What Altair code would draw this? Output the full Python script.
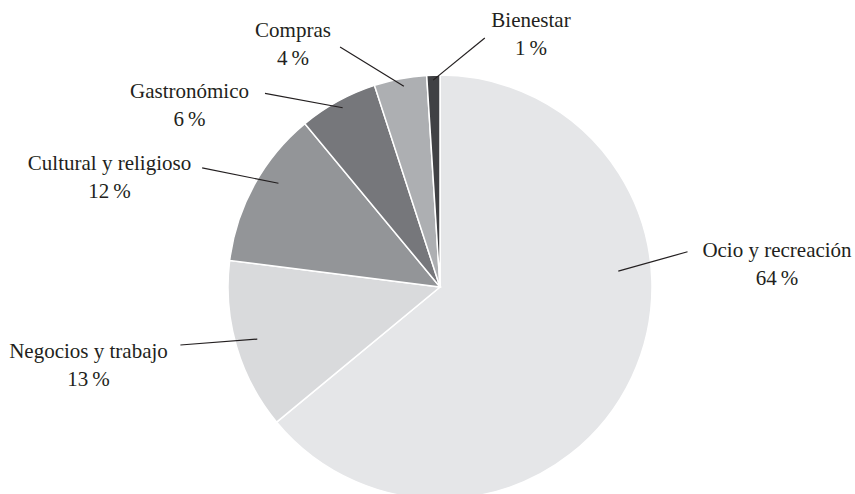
import math

import altair as alt
import pandas as pd

# Motivo de viaje: participación porcentual
categorias = [
    "Ocio y recreación",
    "Negocios y trabajo",
    "Cultural y religioso",
    "Gastronómico",
    "Compras",
    "Bienestar",
]
porcentajes = [64, 13, 12, 6, 4, 1]
colores = ["#e5e6e8", "#d9dadc", "#939598", "#76777b", "#adafb2", "#404144"]

# Geometría del pastel (píxeles)
W, H = 855, 494
CX, CY, R = 440, 287, 212

# Líneas guía en coordenadas polares respecto al centro del pastel:
# ángulo en grados (sentido horario desde las 12) y distancia al centro
guia_ang_int = [84.9, 254.1, 302.7, 331.5, 349.8, 358.1]
guia_rad_int = [179, 190, 192, 204, 204, 207]
guia_ang_ext = [81.9, 257.4, 296.6, 317.9, 337.4, 10.2]
guia_rad_ext = [250, 266, 266, 261, 260, 253]

# Posición de cada etiqueta (centro horizontal, línea base del primer renglón)
etiqueta_x = [777, 88.5, 109.5, 189.5, 293, 531]
etiqueta_y = [257, 358, 170, 98, 37, 27]

FUENTE = "Times New Roman, Liberation Serif, serif"


def polar(ang, rad):
    a = math.radians(ang)
    return CX + rad * math.sin(a), CY - rad * math.cos(a)


pastel = pd.DataFrame(
    {
        "categoria": categorias,
        "porcentaje": porcentajes,
        "orden": list(range(len(categorias))),
    }
)

filas = []
for i, cat in enumerate(categorias):
    x1, y1 = polar(guia_ang_int[i], guia_rad_int[i])
    x2, y2 = polar(guia_ang_ext[i], guia_rad_ext[i])
    filas.append(
        {
            "categoria": cat,
            "x1": x1,
            "y1": y1,
            "x2": x2,
            "y2": y2,
            "tx": etiqueta_x[i],
            "ty": etiqueta_y[i],
            "texto": f"{cat}\n{porcentajes[i]}\u2009%",
        }
    )
anotaciones = pd.DataFrame(filas)

escala_x = alt.Scale(domain=[0, W], range=[0, W])
escala_y = alt.Scale(domain=[0, H], range=[0, H])

arcos = (
    alt.Chart(pastel)
    .mark_arc(radius=R, stroke="white", strokeWidth=1.5)
    .encode(
        theta=alt.Theta("porcentaje:Q", stack=True),
        order=alt.Order("orden:Q"),
        color=alt.Color(
            "categoria:N",
            scale=alt.Scale(domain=categorias, range=colores),
            legend=None,
        ),
        x=alt.value(CX),
        y=alt.value(CY),
    )
)

lineas = (
    alt.Chart(anotaciones)
    .mark_rule(color="#231f20", strokeWidth=1.2)
    .encode(
        x=alt.X("x1:Q", scale=escala_x, axis=None),
        y=alt.Y("y1:Q", scale=escala_y, axis=None),
        x2="x2:Q",
        y2="y2:Q",
    )
)

textos = (
    alt.Chart(anotaciones)
    .mark_text(
        font=FUENTE,
        fontSize=21,
        color="#231f20",
        align="center",
        baseline="alphabetic",
        lineBreak="\n",
        lineHeight=28,
    )
    .encode(
        x=alt.X("tx:Q", scale=escala_x, axis=None),
        y=alt.Y("ty:Q", scale=escala_y, axis=None),
        text="texto:N",
    )
)

chart = (
    alt.layer(arcos, lineas, textos)
    .properties(width=W, height=H, padding=0, autosize="none", background="white")
    .configure_view(strokeWidth=0)
)

chart.save("out.html", embed_options={"renderer": "svg", "actions": False})
